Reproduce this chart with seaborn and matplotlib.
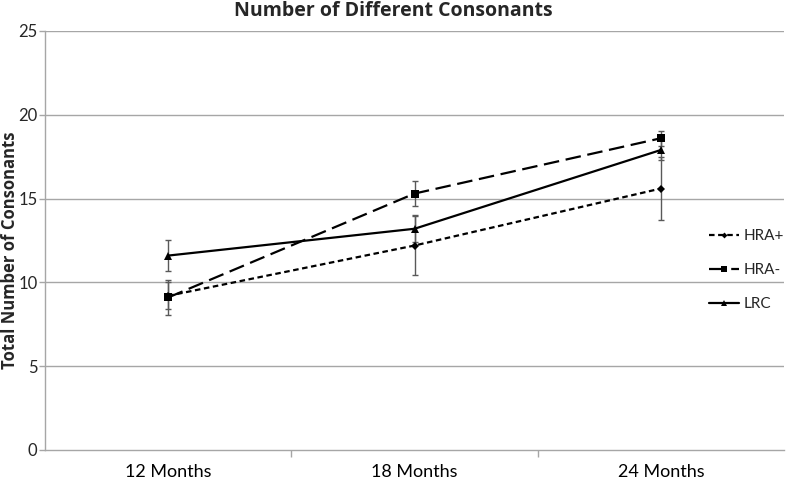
import matplotlib
matplotlib.use("Agg")
import matplotlib.pyplot as plt
from matplotlib.lines import Line2D
import seaborn as sns
import pandas as pd

months = ["12 Months", "18 Months", "24 Months"]
groups = ["HRA+", "HRA-", "LRC"]
hra_pos = [9.2, 12.2, 15.6]
hra_neg = [9.1, 15.3, 18.6]
lrc = [11.6, 13.2, 17.9]
hra_pos_err = [0.8, 1.75, 1.9]
hra_neg_err = [1.05, 0.75, 0.45]
lrc_err = [0.9, 0.8, 0.6]

values = {"HRA+": hra_pos, "HRA-": hra_neg, "LRC": lrc}
errors = {"HRA+": hra_pos_err, "HRA-": hra_neg_err, "LRC": lrc_err}

rows = []
for g in groups:
    for i, m in enumerate(months):
        rows.append({"pos": i, "month": m, "group": g, "value": values[g][i], "err": errors[g][i]})
df = pd.DataFrame(rows)

sns.set_theme(style="white")
plt.rcParams["font.family"] = ["Lato", "DejaVu Sans"]
bold_font = ["Open Sans", "DejaVu Sans"]

fig = plt.figure(figsize=(7.87, 4.8), dpi=100)
ax = fig.add_axes([45 / 787, 1 - 450 / 480, 739 / 787, 419 / 480])

grid_col = "#a6a6a6"
for yv in [5, 10, 15, 20, 25]:
    ax.axhline(yv, color=grid_col, lw=1, zorder=0)

for g in groups:
    d = df[df.group == g]
    ax.errorbar(d.pos, d.value, yerr=d.err, fmt="none", ecolor="#595959",
                elinewidth=1, capsize=2.5, capthick=1, zorder=2)

dashes = {"HRA+": (2.5, 1.6), "HRA-": (7, 3), "LRC": ""}
markers = {"HRA+": "D", "HRA-": "s", "LRC": "^"}
sizes = {"HRA+": 4, "HRA-": 6, "LRC": 6}
for g in groups:
    d = df[df.group == g]
    sns.lineplot(data=d, x="pos", y="value", ax=ax, color="black", lw=1.6,
                 marker=markers[g], markersize=sizes[g], markeredgewidth=0,
                 dashes=False, zorder=3, legend=False)
    if dashes[g]:
        ax.lines[-1].set_dashes(dashes[g])

ax.set_xlim(-0.5, 2.5)
ax.set_ylim(0, 25)
ax.set_yticks([0, 5, 10, 15, 20, 25])
ax.set_xticks(range(len(months)))
ax.set_xticklabels(months)
ax.set_xticks([0.5, 1.5], minor=True)
ax.tick_params(axis="x", which="major", length=0, pad=10, labelsize=13, colors="black")
ax.tick_params(axis="x", which="minor", length=5, width=1, color=grid_col, direction="out", bottom=True)
ax.tick_params(axis="y", length=4, width=1, color=grid_col, direction="out", left=True, labelsize=12, pad=1.5)
ax.set_xlabel("")
ax.set_ylabel("")

for side in ["top", "right"]:
    ax.spines[side].set_visible(False)
for side in ["left", "bottom"]:
    ax.spines[side].set_color(grid_col)
    ax.spines[side].set_linewidth(1)

fig.text(10 / 787, 1 - 250 / 480, "Total Number of Consonants", rotation=90,
         ha="center", va="center", fontsize=12, fontweight="bold", family=bold_font)
fig.text(0.5, 1 - 11 / 480, "Number of Different Consonants", ha="center", va="center",
         fontsize=14, fontweight="bold", family=bold_font)

handles = []
for g in groups:
    handles.append(Line2D([0], [0], color="black", lw=1.6, marker=markers[g],
                          markersize=sizes[g] - 1, markeredgewidth=0,
                          linestyle="-" if not dashes[g] else (0, dashes[g])))
leg = ax.legend(handles, groups, loc="center left", bbox_to_anchor=(695 / 787, 1 - 270 / 480),
                bbox_transform=fig.transFigure, frameon=False, fontsize=11,
                handlelength=2.0, handletextpad=0.3, labelspacing=1.3)

fig.savefig("out.png", dpi=100)
